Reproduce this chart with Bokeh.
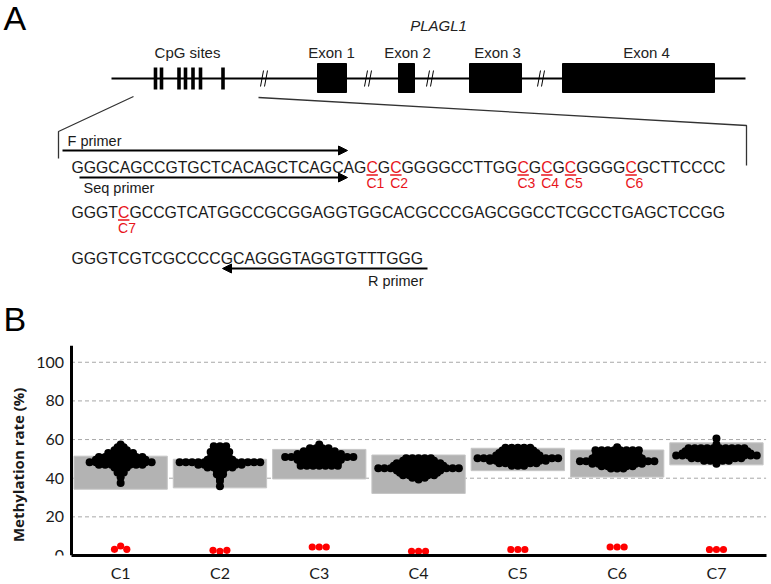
import math
import numpy as np
from bokeh.plotting import figure
from bokeh.models import Range1d, FixedTicker, Arrow, NormalHead
from bokeh.layouts import column
from bokeh.embed import file_html
from bokeh.resources import INLINE
from bokeh.core.properties import value

# ================= Panel A : gene schematic (reference pixel coordinates) =================
panel_letters = ["A", "B"]
panel_letter_y = [17.5, 318]
gene_name = "PLAGL1"
region_labels = ["CpG sites", "Exon 1", "Exon 2", "Exon 3", "Exon 4"]
region_label_x = [187, 331, 407, 497, 646]
exon_left = [317, 398, 469, 562]
exon_right = [346, 414, 521, 714]
cpg_bar_x = [155, 161, 178.5, 185, 192.5, 200, 222.5]
break_x = [265, 369, 431, 542]
gene_span = [111, 745]

seq_lines = [
    "GGGCAGCCGTGCTCACAGCTCAGCAGCGCGGGGCCTTGGCGCGCGGGGCGCTTCCCC",
    "GGGTCGCCGTCATGGCCGCGGAGGTGGCACGCCCGAGCGGCCTCGCCTGAGCTCCGG",
    "GGGTCGTCGCCCCGCAGGGTAGGTGTTTGGG",
]
seq_y = [167, 212, 258]
cpg_line = [0, 0, 0, 0, 0, 0, 1]
cpg_index = [26, 28, 39, 41, 43, 48, 4]
cpg_names = ["C1", "C2", "C3", "C4", "C5", "C6", "C7"]

primer_names = ["F primer", "Seq primer", "R primer"]
primer_start = [62, 79, 427]
primer_end = [347, 347, 222]
primer_y = [150, 177, 268]
primer_label_x = [67, 83, 423]
primer_label_y = [140, 187, 280]
primer_label_align = ["left", "left", "right"]

zoom_left_x = [133, 58, 58]
zoom_left_y = [96, 131, 158]
zoom_right_x = [258, 746, 746]
zoom_right_y = [97, 125, 165]

# ================= Panel B : methylation data =================
categories = ["C1", "C2", "C3", "C4", "C5", "C6", "C7"]
y_title = "Methylation rate (%)"
y_ticks = [0, 20, 40, 60, 80, 100]
grid_ticks = [20, 40, 60, 80, 100]
box_low = [34.3, 35.0, 39.6, 32.1, 43.9, 40.6, 46.9]
box_high = [51.4, 49.8, 54.9, 52.0, 55.5, 54.6, 58.3]

# patients: rows of dots (value level, number of dots at that level)
C1_levels = [57.5, 56.0, 54.5, 53.0, 51.0, 49.5, 48.3, 47.0, 45.5, 43.0, 40.5, 37.5]
C1_counts = [1, 2, 3, 5, 8, 9, 11, 8, 3, 2, 1, 1]
C2_levels = [56.5, 55.0, 53.5, 52.0, 50.5, 49.5, 48.3, 47.0, 45.5, 44.0, 42.0, 40.0, 38.5, 35.8]
C2_counts = [3, 2, 4, 3, 4, 5, 14, 8, 5, 2, 2, 1, 1, 1]
C3_levels = [57.5, 55.5, 54.0, 52.5, 51.0, 49.5, 48.0, 46.5]
C3_counts = [1, 4, 6, 8, 12, 8, 7, 7]
C4_levels = [50.3, 49.0, 47.8, 46.5, 45.2, 44.0, 42.8, 41.5, 40.2, 39.3]
C4_counts = [5, 6, 8, 9, 14, 8, 7, 6, 3, 1]
C5_levels = [55.8, 54.3, 53.0, 51.7, 50.3, 49.0, 47.7, 46.5]
C5_counts = [5, 6, 7, 8, 14, 10, 7, 3]
C6_levels = [56.0, 54.5, 53.0, 51.5, 50.2, 48.8, 47.5, 46.2, 45.0]
C6_counts = [1, 8, 7, 8, 9, 13, 9, 6, 3]
C7_levels = [60.5, 57.5, 55.5, 54.0, 52.8, 51.7, 50.3, 49.0, 47.5]
C7_counts = [1, 1, 10, 11, 12, 14, 9, 5, 1]
case_levels = [C1_levels, C2_levels, C3_levels, C4_levels, C5_levels, C6_levels, C7_levels]
case_counts = [C1_counts, C2_counts, C3_counts, C4_counts, C5_counts, C6_counts, C7_counts]

# controls (red)
ctrl_C1 = [4.9, 3.2, 3.2]
ctrl_C2 = [2.2, 2.7, 2.7]
ctrl_C3 = [4.4, 4.4, 4.4]
ctrl_C4 = [2.2, 2.2, 2.2]
ctrl_C5 = [3.1, 3.1, 3.1]
ctrl_C6 = [4.4, 4.4, 4.4]
ctrl_C7 = [3.1, 3.1, 3.1]
controls = [ctrl_C1, ctrl_C2, ctrl_C3, ctrl_C4, ctrl_C5, ctrl_C6, ctrl_C7]

# ================= layout constants =================
FW = 771
HA = 345
HB = 584 - HA
FONT = "Liberation Sans"
SEQ_FS = 15.8
SEQ_X = 71
ARIAL_EM = {"A": 0.667, "C": 0.722, "G": 0.778, "T": 0.611}

pA = figure(width=FW, height=HA, x_range=Range1d(0, FW), y_range=Range1d(HA, 0),
            output_backend="svg", toolbar_location=None, min_border=0,
            x_axis_location=None, y_axis_location=None, outline_line_color=None)
pA.xgrid.visible = False
pA.ygrid.visible = False

pA.text(x=[3] * len(panel_letters), y=panel_letter_y, text=panel_letters, text_font=value(FONT),
        text_font_size="34px", text_baseline="middle", text_align="left", text_color="black")
pA.text(x=[438], y=[25], text=[gene_name], text_font=value(FONT), text_font_size="15px",
        text_font_style="italic", text_baseline="middle", text_align="center", text_color="#222222")
pA.text(x=region_label_x, y=[52] * len(region_labels), text=region_labels, text_font=value(FONT),
        text_font_size="15px", text_baseline="middle", text_align="center", text_color="#222222")

pA.line(x=gene_span, y=[78, 78], line_width=2, color="black")
pA.quad(left=exon_left, right=exon_right, top=[63] * 4, bottom=[92] * 4,
        fill_color="black", line_color="black")
pA.quad(left=[x - 1.8 for x in cpg_bar_x], right=[x + 1.8 for x in cpg_bar_x],
        top=[67] * len(cpg_bar_x), bottom=[89] * len(cpg_bar_x), fill_color="black", line_color=None)
bx0, bx1, by0, by1 = [], [], [], []
for b in break_x:
    for dx in (-3.5, 0.5):
        bx0.append(b + dx - 1.5); by0.append(86)
        bx1.append(b + dx + 1.5); by1.append(70)
pA.segment(x0=bx0, y0=by0, x1=bx1, y1=by1, line_width=1, color="black")

pA.line(x=zoom_left_x, y=zoom_left_y, line_width=1.3, color="#333333")
pA.line(x=zoom_right_x, y=zoom_right_y, line_width=1.3, color="#333333")

# sequence text, split into black / red runs
red_set = {(l, i) for l, i in zip(cpg_line, cpg_index)}
char_x = {}
bt_x, bt_y, bt_t, rt_x, rt_y, rt_t = [], [], [], [], [], []
for ln, s in enumerate(seq_lines):
    x = SEQ_X
    run, run_red, run_x = "", None, x
    for i, ch in enumerate(s):
        is_red = (ln, i) in red_set
        if run and is_red != run_red:
            (rt_x if run_red else bt_x).append(run_x)
            (rt_y if run_red else bt_y).append(seq_y[ln])
            (rt_t if run_red else bt_t).append(run)
            run = ""
        if not run:
            run_x, run_red = x, is_red
        run += ch
        char_x[(ln, i)] = x
        x += ARIAL_EM[ch] * SEQ_FS
    (rt_x if run_red else bt_x).append(run_x)
    (rt_y if run_red else bt_y).append(seq_y[ln])
    (rt_t if run_red else bt_t).append(run)

pA.text(x=bt_x, y=bt_y, text=bt_t, text_font=value(FONT), text_font_size=f"{SEQ_FS}px",
        text_baseline="middle", text_align="left", text_color="#1a1a1a")
pA.text(x=rt_x, y=rt_y, text=rt_t, text_font=value(FONT), text_font_size=f"{SEQ_FS}px",
        text_baseline="middle", text_align="left", text_color="#e8141b")
ux0 = [char_x[(l, i)] for l, i in zip(cpg_line, cpg_index)]
ux1 = [x + ARIAL_EM["C"] * SEQ_FS for x in ux0]
uy = [seq_y[l] + 7.5 for l in cpg_line]
pA.segment(x0=ux0, y0=uy, x1=ux1, y1=uy, line_width=1.5, color="#e8141b")
pA.text(x=ux0, y=[seq_y[l] + 15.5 for l in cpg_line], text=cpg_names, text_font=value(FONT),
        text_font_size="14px", text_baseline="middle", text_align="left", text_color="#e8141b")

for xs, xe, y in zip(primer_start, primer_end, primer_y):
    pA.add_layout(Arrow(end=NormalHead(size=9, fill_color="black", line_color="black"),
                        x_start=xs, y_start=y, x_end=xe, y_end=y, line_width=2, line_color="black"))
pA.text(x=primer_label_x, y=primer_label_y, text=primer_names, text_font=value(FONT),
        text_font_size="14.5px", text_baseline="middle", text_align=primer_label_align,
        text_color="#1a1a1a")

# ================= Panel B =================
TB, BB = 0, 26
AXIS_PX = 70.5          # position of the y axis inside the full-width frame
CAT_PX = 99.3           # width of one category
PY = 1.96               # px per percent
ncat = len(categories)
x_lo = -AXIS_PX / CAT_PX
x_hi = x_lo + FW / CAT_PX
YMAX = (HB - TB - BB) / PY
pB = figure(width=FW, height=HB, x_range=Range1d(x_lo, x_hi), y_range=Range1d(0, YMAX),
            output_backend="svg", toolbar_location=None,
            min_border_left=0, min_border_right=0, min_border_top=TB, min_border_bottom=BB,
            outline_line_color=None)
centers = [i + 0.5 for i in range(ncat)]

pB.xgrid.visible = False
pB.ygrid.visible = False
pB.segment(x0=[0] * len(grid_ticks), x1=[ncat] * len(grid_ticks), y0=grid_ticks, y1=grid_ticks,
           line_color="#a8a8a8", line_dash="4 3", line_width=1)

for ax in (pB.xaxis[0], pB.yaxis[0]):
    ax.axis_line_width = 3
    ax.axis_line_color = "black"
    ax.major_tick_line_color = None
    ax.minor_tick_line_color = None
    ax.major_tick_out = 0
    ax.major_tick_in = 0
    ax.minor_tick_out = 0
    ax.minor_tick_in = 0
    ax.major_label_text_font = "Lato"
    ax.major_label_text_font_size = "16px"
    ax.major_label_text_color = "#1a1a1a"
pB.yaxis.fixed_location = 0
pB.yaxis.ticker = FixedTicker(ticks=y_ticks)
pB.yaxis.major_label_standoff = 7
pB.xaxis.ticker = FixedTicker(ticks=centers)
pB.xaxis.major_label_overrides = {c: n for c, n in zip(centers, categories)}
pB.xaxis.major_label_standoff = 7
pB.xaxis.bounds = (0, ncat)

# y-axis title, placed left of the tick labels
title_x = x_lo + 17.5 / CAT_PX
title_y = 92 / PY
pB.text(x=[title_x], y=[title_y], text=[y_title], angle=math.pi / 2,
        text_font=value("Open Sans"), text_font_size="15px", text_font_style="bold",
        text_align="center", text_baseline="middle", text_color="#1a1a1a")

pB.quad(left=[c - 0.47 for c in centers], right=[c + 0.47 for c in centers],
        bottom=box_low, top=box_high, fill_color="#b3b3b3", line_color="#c6c6c6")

# patients: centered rows
SPACING = 6.2
bx, by = [], []
for c, levels, counts in zip(centers, case_levels, case_counts):
    for lv, n in zip(levels, counts):
        for k in range(n):
            bx.append(c + (k - (n - 1) / 2) * SPACING / CAT_PX)
            by.append(lv)
pB.scatter(x=bx, y=by, size=8, fill_color="black", line_color=None)

# controls: beeswarm placement
D = 7.0
rx, ry = [], []
for c, vals in zip(centers, controls):
    placed = []
    for v in vals:
        yv = v * PY
        cands = [0.0]
        for xj, yj in placed:
            dy = yv - yj
            if abs(dy) < D:
                dxx = (D * D - dy * dy) ** 0.5
                cands += [xj - dxx, xj + dxx]
        ok = [x for x in cands if all((x - xj) ** 2 + (yv - yj) ** 2 >= D * D - 1e-6 for xj, yj in placed)]
        best = min(ok, key=lambda x: (abs(x), x))
        placed.append((best, yv))
        rx.append(c + best / CAT_PX)
        ry.append(v)
pB.scatter(x=rx, y=ry, size=7.2, fill_color="#ff0000", line_color=None)

layout = column(pA, pB)
open("out.html", "w").write(file_html(layout, INLINE))
